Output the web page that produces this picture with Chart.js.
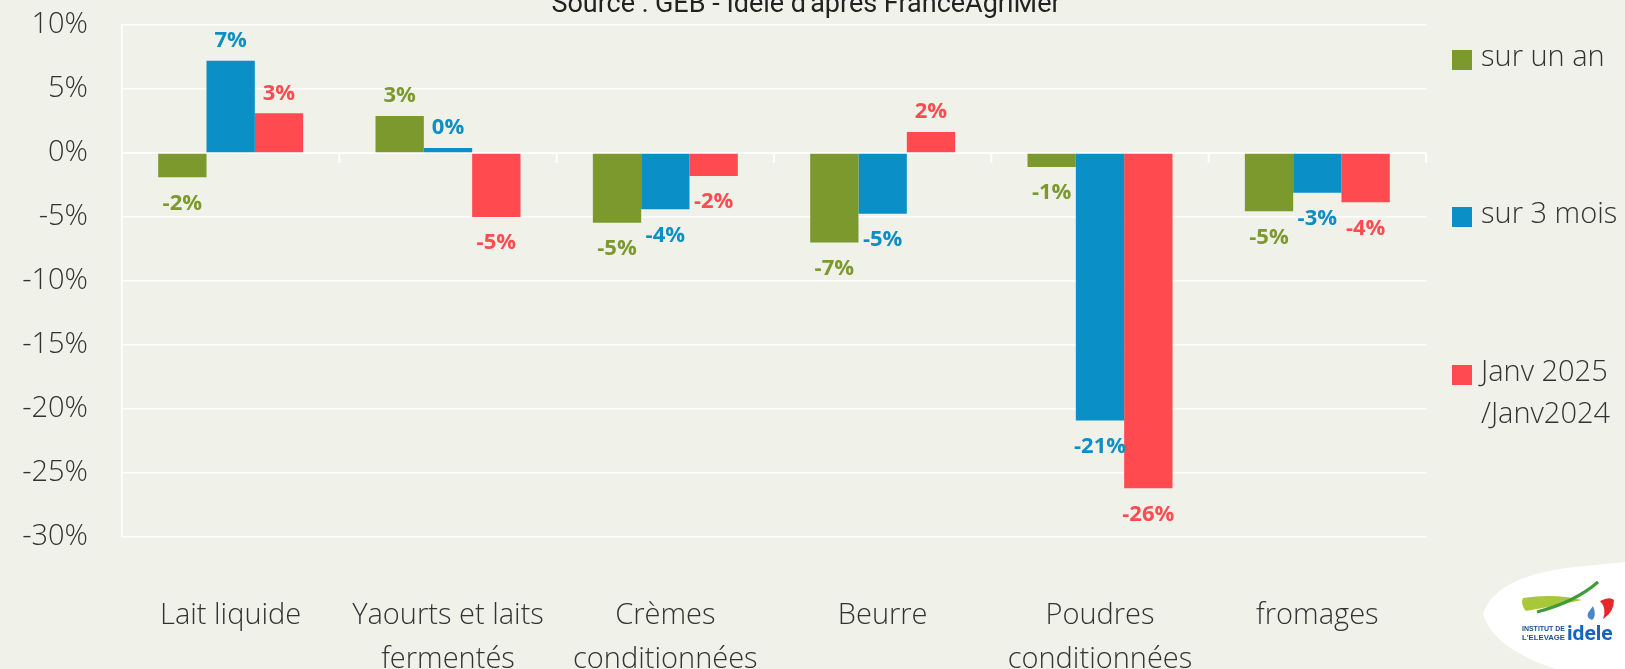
<!DOCTYPE html>
<html>
<head>
<meta charset="utf-8">
<script src="https://cdn.jsdelivr.net/npm/chart.js@4/dist/chart.umd.min.js"></script>
<style>
  html, body { margin: 0; padding: 0; background: #F0F1E8; }
  #wrap { width: 1625px; height: 669px; position: relative; }
</style>
</head>
<body>
<div id="wrap"><canvas id="c" width="1625" height="669"></canvas></div>
<script>
// ---- Data ----
const categories = [
  'Lait liquide',
  ['Yaourts et laits', 'fermentés'],
  ['Crèmes', 'conditionnées'],
  'Beurre',
  ['Poudres', 'conditionnées'],
  'fromages'
];
const seriesNames = ['sur un an', 'sur 3 mois', ['Janv 2025', '/Janv2024']];
const surUnAn   = [-1.9, 2.9, -5.45, -7.0, -1.1, -4.55];
const sur3Mois  = [7.2, 0.4, -4.4, -4.75, -20.9, -3.1];
const janv2025  = [3.1, -5.0, -1.8, 1.65, -26.2, -3.85];
const yTicks    = [10, 5, 0, -5, -10, -15, -20, -25, -30];
const titleText = "Source : GEB - Idele d'après FranceAgriMer";

const colors = ['#7B992D', '#0A8FC6', '#FF4B50'];
const BG = '#F0F1E8';
const TEXT = '#333333';
const LIGHT_FONT = '"Open Sans", "Lato", sans-serif';

const bgPlugin = {
  id: 'bg',
  beforeDraw(chart) {
    const ctx = chart.ctx;
    ctx.save();
    ctx.fillStyle = BG;
    ctx.fillRect(0, 0, chart.width, chart.height);
    ctx.restore();
  }
};

const titlePlugin = {
  id: 'titleClip',
  afterDraw(chart) {
    const ctx = chart.ctx;
    ctx.save();
    ctx.fillStyle = '#222';
    ctx.font = '400 27px Roboto, sans-serif';
    ctx.textAlign = 'center';
    ctx.textBaseline = 'alphabetic';
    ctx.fillText(titleText, 806, 12, 538);
    ctx.restore();
  }
};

const axisDecor = {
  id: 'axisDecor',
  beforeDatasetsDraw(chart) {
    const ctx = chart.ctx;
    const xs = chart.scales.x, ys = chart.scales.y;
    const y0 = ys.getPixelForValue(0);
    ctx.save();
    ctx.strokeStyle = '#FFFFFF';
    ctx.lineWidth = 2;
    ctx.beginPath();
    ctx.moveTo(xs.left, y0); ctx.lineTo(xs.right, y0);
    const n = categories.length;
    const w = (xs.right - xs.left) / n;
    for (let i = 1; i <= n; i++) {
      const bx = xs.getPixelForValue(i - 1) + w / 2;
      ctx.moveTo(bx, y0); ctx.lineTo(bx, y0 + 10);
    }
    ctx.stroke();
    ctx.restore();
  }
};

const valueLabels = {
  id: 'valueLabels',
  afterDatasetsDraw(chart) {
    const ctx = chart.ctx;
    ctx.save();
    ctx.font = 'bold 22px "Open Sans", "Lato", sans-serif';
    ctx.textAlign = 'center';
    ctx.textBaseline = 'middle';
    chart.data.datasets.forEach((ds, di) => {
      const meta = chart.getDatasetMeta(di);
      ctx.fillStyle = colors[di];
      meta.data.forEach((el, i) => {
        const v = ds.data[i];
        const r = Math.round(v);
        const txt = (r === 0 ? 0 : r) + '%';
        const y = v >= 0 ? el.y - 20 : el.y + 26;
        ctx.fillText(txt, el.x, y);
      });
    });
    ctx.restore();
  }
};

const legendPlugin = {
  id: 'customLegend',
  afterDraw(chart) {
    const ctx = chart.ctx;
    const ys = [60, 217, 375];
    ctx.save();
    ctx.font = '300 29px ' + LIGHT_FONT;
    ctx.textBaseline = 'middle';
    ctx.textAlign = 'left';
    chart.data.datasets.forEach((ds, di) => {
      ctx.fillStyle = colors[di];
      ctx.fillRect(1452, ys[di] - 10, 20, 20);
      ctx.fillStyle = TEXT;
      const lines = Array.isArray(seriesNames[di]) ? seriesNames[di] : [seriesNames[di]];
      lines.forEach((ln, li) => ctx.fillText(ln, 1481, ys[di] - 2 + li * 42));
    });
    ctx.restore();
  }
};

const logoPlugin = {
  id: 'logo',
  afterDraw(chart) {
    const ctx = chart.ctx;
    ctx.save();
    ctx.fillStyle = '#FFFFFF';
    ctx.beginPath();
    ctx.moveTo(1483, 614);
    ctx.bezierCurveTo(1492, 585, 1530, 572, 1575, 567);
    ctx.lineTo(1625, 562);
    ctx.lineTo(1625, 669);
    ctx.lineTo(1555, 669);
    ctx.bezierCurveTo(1515, 655, 1490, 638, 1483, 614);
    ctx.closePath();
    ctx.fill();
    // green swoosh
    ctx.fillStyle = '#A8C83A';
    ctx.beginPath();
    ctx.moveTo(1523, 598);
    ctx.quadraticCurveTo(1555, 593, 1582, 600);
    ctx.quadraticCurveTo(1555, 606, 1526, 611);
    ctx.quadraticCurveTo(1520, 604, 1523, 598);
    ctx.closePath();
    ctx.fill();
    ctx.strokeStyle = '#3E9B3A';
    ctx.lineWidth = 3;
    ctx.beginPath();
    ctx.moveTo(1537, 612);
    ctx.quadraticCurveTo(1575, 602, 1598, 582);
    ctx.stroke();
    // drop
    ctx.fillStyle = '#4A86C8';
    ctx.beginPath();
    ctx.moveTo(1593, 606);
    ctx.quadraticCurveTo(1597, 616, 1592, 620);
    ctx.quadraticCurveTo(1586, 618, 1588, 613);
    ctx.closePath();
    ctx.fill();
    // red
    ctx.fillStyle = '#E5262B';
    ctx.beginPath();
    ctx.moveTo(1600, 601);
    ctx.quadraticCurveTo(1610, 596, 1614, 600);
    ctx.quadraticCurveTo(1614, 612, 1603, 619);
    ctx.quadraticCurveTo(1607, 608, 1600, 601);
    ctx.closePath();
    ctx.fill();
    // text
    ctx.fillStyle = '#1B4F93';
    ctx.font = 'bold 8px "Liberation Sans Narrow", "Liberation Sans", sans-serif';
    ctx.textAlign = 'left';
    ctx.textBaseline = 'alphabetic';
    ctx.fillText('INSTITUT DE', 1522, 631, 43);
    ctx.fillText("L'ELEVAGE", 1522, 640, 43);
    ctx.fillStyle = '#1565C0';
    ctx.font = 'bold 21px "Liberation Sans Narrow", "Roboto", sans-serif';
    ctx.fillText('idele', 1567, 640, 46);
    ctx.restore();
  }
};

new Chart(document.getElementById('c'), {
  type: 'bar',
  data: {
    labels: categories,
    datasets: [
      { label: 'sur un an', data: surUnAn, backgroundColor: colors[0] },
      { label: 'sur 3 mois', data: sur3Mois, backgroundColor: colors[1] },
      { label: 'Janv 2025 /Janv2024', data: janv2025, backgroundColor: colors[2] }
    ]
  },
  options: {
    responsive: false,
    animation: false,
    layout: { padding: { top: 25, right: 199, left: 0, bottom: 0 } },
    datasets: { bar: { categoryPercentage: 0.667, barPercentage: 1.0, borderWidth: 0 } },
    plugins: {
      legend: { display: false },
      title: { display: false },
      tooltip: { enabled: false }
    },
    scales: {
      x: {
        grid: { display: false },
        border: { display: false },
        ticks: {
          color: TEXT,
          font: { family: LIGHT_FONT, size: 29, weight: '300', lineHeight: 1.52 },
          padding: 49,
          maxRotation: 0,
          autoSkip: false
        },
        afterFit(scale) { scale.height = 132; scale.paddingLeft = 0; scale.paddingRight = 0; }
      },
      y: {
        min: -30,
        max: 10,
        afterBuildTicks(scale) { scale.ticks = yTicks.map(v => ({ value: v })); },
        grid: { color: '#FFFFFF', lineWidth: 1.5, drawTicks: false },
        border: { display: true, color: '#FFFFFF', width: 1.5 },
        ticks: {
          color: TEXT,
          font: { family: LIGHT_FONT, size: 29, weight: '300' },
          padding: 34,
          callback: v => v + '%'
        },
        afterFit(scale) { scale.width = 122; scale.paddingTop = 0; scale.paddingBottom = 0; }
      }
    }
  },
  plugins: [bgPlugin, axisDecor, valueLabels, legendPlugin, titlePlugin, logoPlugin]
});
</script>
</body>
</html>
